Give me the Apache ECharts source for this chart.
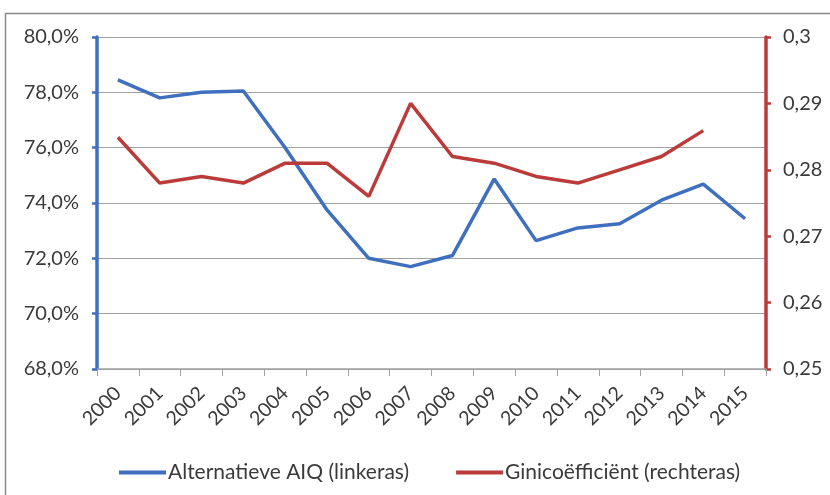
<!DOCTYPE html>
<html>
<head>
<meta charset="utf-8">
<script src="https://cdn.jsdelivr.net/npm/echarts@6/dist/echarts.min.js"></script>
<style>
  html, body { margin: 0; padding: 0; background: #fff; }
  #chart { width: 830px; height: 495px; }
</style>
</head>
<body>
<div id="chart"></div>
<script>
// jaren op de x-as
const years = ["2000", "2001", "2002", "2003", "2004", "2005", "2006", "2007",
  "2008", "2009", "2010", "2011", "2012", "2013", "2014", "2015"];
// Alternatieve AIQ in procent (linkeras)
const aiq = [78.45, 77.8, 78.0, 78.05, 76.0, 73.75, 72.0, 71.7,
  72.1, 74.87, 72.64, 73.1, 73.25, 74.1, 74.68, 73.43];
// Ginicoëfficiënt (rechteras), 2015 ontbreekt
const gini = [0.2849, 0.278, 0.279, 0.278, 0.281, 0.281, 0.276, 0.290,
  0.282, 0.281, 0.279, 0.278, 0.280, 0.282, 0.2859, null];

const blue = "#3f6fbf";
const red = "#bb3a3a";
const font = "Lato, 'Open Sans', sans-serif";
const labelColor = "#3a3a3a";

const chart = echarts.init(document.getElementById("chart"));

chart.setOption({
  animation: false,
  textStyle: { fontFamily: font },
  grid: { left: 97, right: 64, top: 37, bottom: 126 },
  graphic: [
    {
      // kader rond de grafiek
      type: "rect",
      shape: { x: 5.5, y: 13.5, width: 900, height: 600 },
      style: { fill: "none", stroke: "#8a8a8a", lineWidth: 1.5 },
    },
  ],
  legend: {
    left: 114,
    top: 457,
    itemWidth: 47,
    itemHeight: 4,
    itemGap: 47,
    icon: "rect",
    textStyle: { fontFamily: font, fontSize: 21, color: labelColor, padding: [0, 0, 0, -3] },
    data: ["Alternatieve AIQ (linkeras)", "Ginicoëfficiënt (rechteras)"],
  },
  xAxis: {
    type: "category",
    data: years,
    boundaryGap: true,
    axisLine: { lineStyle: { color: "#a0a0a0", width: 1.5 } },
    axisTick: { show: true, length: 7, lineStyle: { color: "#a0a0a0" } },
    axisLabel: { rotate: 45, fontSize: 19.5, color: labelColor, margin: 21, fontFamily: font },
  },
  yAxis: [
    {
      type: "value",
      min: 68,
      max: 80,
      interval: 2,
      axisLine: { show: true, lineStyle: { color: blue, width: 3.5 } },
      axisTick: { show: true, length: 5, lineStyle: { color: blue, width: 2.5 } },
      splitLine: { lineStyle: { color: "#a0a0a0", width: 1.2 } },
      axisLabel: {
        fontSize: 20,
        color: labelColor,
        margin: 18,
        fontFamily: font,
        formatter: (v) => v.toFixed(1).replace(".", ",") + "%",
      },
    },
    {
      type: "value",
      min: 0.25,
      max: 0.3,
      interval: 0.01,
      position: "right",
      axisLine: { show: true, lineStyle: { color: red, width: 3.5 } },
      axisTick: { show: true, length: 5, lineStyle: { color: red, width: 2.5 } },
      splitLine: { show: false },
      axisLabel: {
        fontSize: 20,
        color: labelColor,
        margin: 17,
        fontFamily: font,
        formatter: (v) => String(+v.toFixed(2)).replace(".", ","),
      },
    },
  ],
  series: [
    {
      name: "Alternatieve AIQ (linkeras)",
      type: "line",
      yAxisIndex: 0,
      data: aiq,
      symbol: "none",
      color: blue,
      lineStyle: { width: 3.5, color: blue },
    },
    {
      name: "Ginicoëfficiënt (rechteras)",
      type: "line",
      yAxisIndex: 1,
      data: gini,
      symbol: "none",
      color: red,
      lineStyle: { width: 3.5, color: red },
    },
  ],
});
</script>
</body>
</html>
